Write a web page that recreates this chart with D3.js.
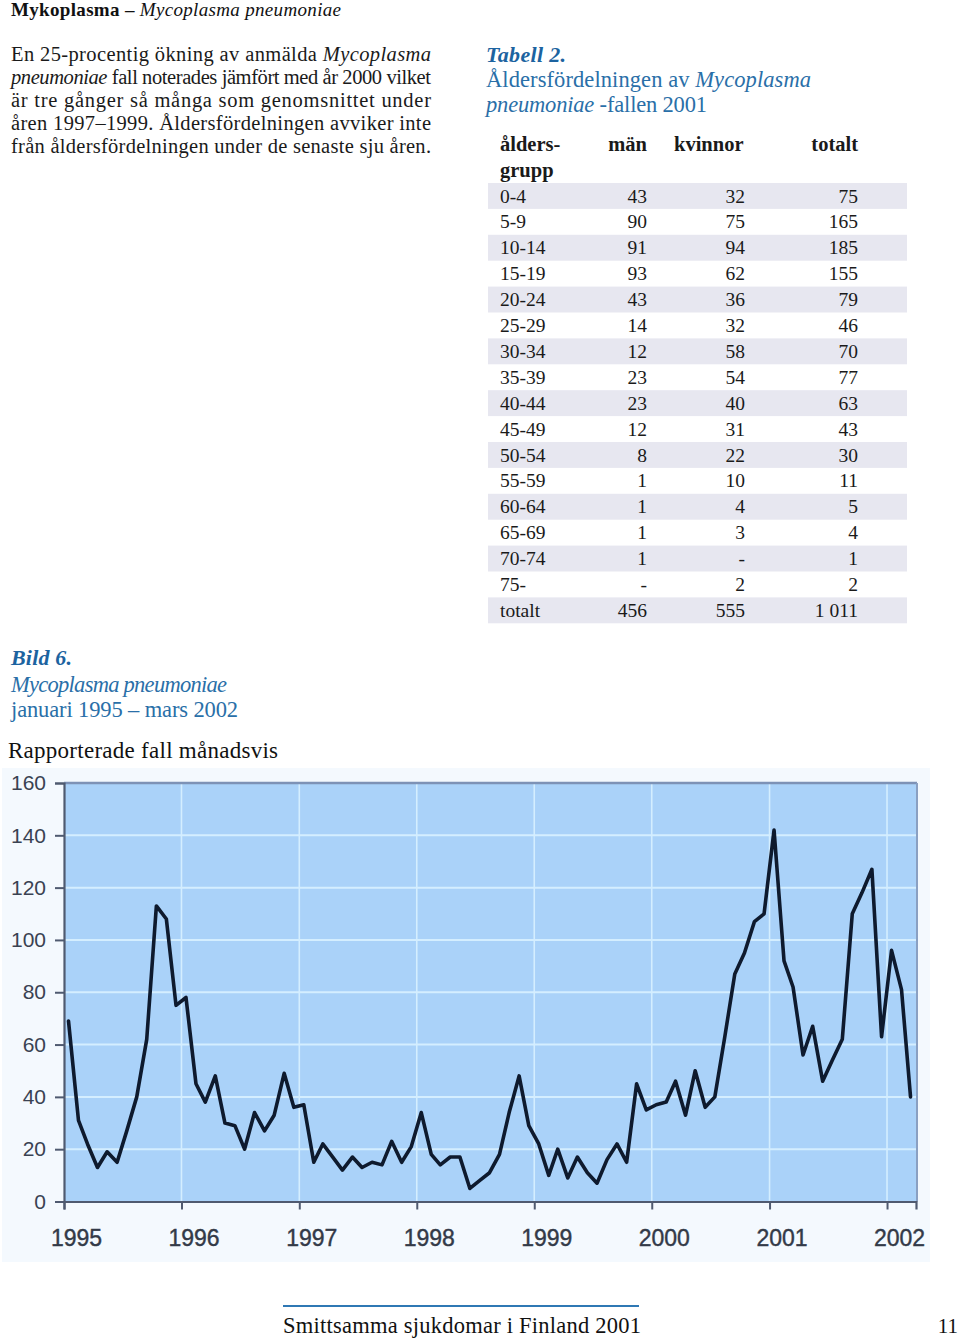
<!DOCTYPE html>
<html>
<head>
<meta charset="utf-8">
<script src="https://cdn.jsdelivr.net/npm/d3@7"></script>
<style>
  body { margin: 0; background: #ffffff; }
  svg { display: block; }
</style>
</head>
<body>
<script>
// ---------------- DATA ----------------
// Monthly reported cases, January 1995 – March 2002
const monthlyCases = [
  69, 31, 22, 13, 19, 15, 27, 40, 62, 113, 108, 75,   // 1995
  78, 45, 38, 48, 30, 29, 20, 34, 27, 33, 49, 36,     // 1996
  37, 15, 22, 17, 12, 17, 13, 15, 14, 23, 15, 21,     // 1997
  34, 18, 14, 17, 17, 5, 8, 11, 18, 34, 48, 29,       // 1998
  22, 10, 20, 9, 17, 11, 7, 16, 22, 15, 45, 35,       // 1999
  37, 38, 46, 33, 50, 36, 40, 63, 87, 95, 107, 110,   // 2000
  142, 92, 82, 56, 67, 46, 54, 62, 110, 118, 127, 63, // 2001
  96, 81, 40                                          // 2002
];
const startYear = 1995;
const yTicks = [0, 20, 40, 60, 80, 100, 120, 140, 160];
const xTickYears = [1995, 1996, 1997, 1998, 1999, 2000, 2001, 2002];

// Table 2
const ageGroups = ["0-4","5-9","10-14","15-19","20-24","25-29","30-34","35-39","40-44","45-49","50-54","55-59","60-64","65-69","70-74","75-","totalt"];
const menValues = ["43","90","91","93","43","14","12","23","23","12","8","1","1","1","1","-","456"];
const womenValues = ["32","75","94","62","36","32","58","54","40","31","22","10","4","3","-","2","555"];
const totalValues = ["75","165","185","155","79","46","70","77","63","43","30","11","5","4","1","2","1 011"];

// Texts
const paragraphLines = [
  [["En 25-procentig ökning av anmälda ", "normal"], ["Mycoplasma", "italic"]],
  [["pneumoniae", "italic"], [" fall noterades jämfört med år 2000 vilket", "normal"]],
  [["är  tre gånger så många som genomsnittet under", "normal"]],
  [["åren 1997–1999. Åldersfördelningen avviker inte", "normal"]],
  [["från åldersfördelningen under de senaste sju åren.", "normal"]]
];

// ---------------- DRAWING ----------------
const W = 960, H = 1342;
const serif = "'Liberation Serif', 'DejaVu Serif', serif";
const sans = "'Liberation Sans', Arial, sans-serif";
const blue = "#2a6fa8";
const blueDark = "#1c63a0";

const svg = d3.select("body").append("svg")
  .attr("width", W).attr("height", H)
  .attr("viewBox", `0 0 ${W} ${H}`);

function richText(x, y, parts, opts) {
  const t = svg.append("text")
    .attr("x", x).attr("y", y)
    .attr("font-family", opts.family || serif)
    .attr("font-size", opts.size)
    .attr("fill", opts.fill || "#111");
  if (opts.length) t.attr("textLength", opts.length).attr("lengthAdjust", opts.adjust || "spacing");
  if (opts.anchor) t.attr("text-anchor", opts.anchor);
  parts.forEach(([s, style]) => {
    t.append("tspan")
      .attr("font-style", style === "italic" || style === "bolditalic" ? "italic" : "normal")
      .attr("font-weight", style === "bold" || style === "bolditalic" ? "bold" : "normal")
      .text(s);
  });
  return t;
}

// Heading
richText(11, 16, [["Mykoplasma – ", "bold"], ["Mycoplasma pneumoniae", "italic"]], {size: 19, length: 330, fill: "#111"});

// Paragraph (justified)
paragraphLines.forEach((line, i) => {
  richText(11, 61 + i * 23, line, {size: 20.5, length: 420, fill: "#1a1a1a"});
});

// Table caption
richText(486, 62, [["Tabell 2.", "bolditalic"]], {size: 22, fill: blueDark, length: 80});
richText(486, 87, [["Åldersfördelningen av ", "normal"], ["Mycoplasma", "italic"]], {size: 22.5, fill: blue, length: 325});
richText(486, 112, [["pneumoniae", "italic"], [" -fallen  2001", "normal"]], {size: 22.5, fill: blue, length: 221});

// Table
const tableTop = 183, rowH = 25.9;
const colAgeX = 500, colMenX = 647, colWomenX = 745, colTotX = 858;
const rowsG = svg.append("g");
ageGroups.forEach((g, i) => {
  const yTop = tableTop + i * rowH;
  if (i % 2 === 0) {
    rowsG.append("rect").attr("x", 488).attr("y", yTop).attr("width", 419).attr("height", rowH)
      .attr("fill", "#e7e7f0");
  }
  const yb = yTop + 19.5;
  const cell = (x, txt, anchor) => rowsG.append("text")
    .attr("x", x).attr("y", yb).attr("text-anchor", anchor)
    .attr("font-family", serif).attr("font-size", 19.5).attr("fill", "#1a1a1a").text(txt);
  cell(colAgeX, g, "start");
  cell(colMenX, menValues[i], "end");
  cell(colWomenX, womenValues[i], "end");
  cell(colTotX, totalValues[i], "end");
});
const hdr = (x, y, txt, anchor) => svg.append("text")
  .attr("x", x).attr("y", y).attr("text-anchor", anchor)
  .attr("font-family", serif).attr("font-size", 20.5).attr("font-weight", "bold")
  .attr("fill", "#1a1a1a").text(txt);
hdr(colAgeX, 151, "ålders-", "start");
hdr(colAgeX, 177, "grupp", "start");
hdr(colMenX, 151, "män", "end");
hdr(674, 151, "kvinnor", "start");
hdr(colTotX, 151, "totalt", "end");

// Figure caption
richText(11, 665, [["Bild 6.", "bolditalic"]], {size: 22, fill: blueDark, length: 61});
richText(11, 692, [["Mycoplasma pneumoniae", "italic"]], {size: 22.5, fill: blue, length: 216});
richText(11, 717, [["januari 1995 – mars 2002", "normal"]], {size: 22.5, fill: blue, length: 227});
richText(8, 758, [["Rapporterade fall månadsvis", "normal"]], {size: 23, fill: "#111", length: 270});

// ---------------- CHART ----------------
const plot = {left: 64, right: 917, top: 783, bottom: 1201.5};

svg.append("rect").attr("x", 2).attr("y", 768).attr("width", 928).attr("height", 494)
  .attr("fill", "#f4f9fe");

const x = d3.scaleTime()
  .domain([new Date(startYear, 0, 1), new Date(2002, 3, 1)])
  .range([plot.left, 916]);
const y = d3.scaleLinear().domain([0, 160]).range([plot.bottom, plot.top]);

const series = monthlyCases.map((v, i) => ({date: new Date(startYear, i, 15), value: v}));

// background
svg.append("rect")
  .attr("x", plot.left).attr("y", plot.top)
  .attr("width", plot.right - plot.left).attr("height", plot.bottom - plot.top)
  .attr("fill", "#aad2f9");

// grid
const grid = svg.append("g");
grid.selectAll("line.h").data(yTicks.filter(d => d > 0 && d < 160)).join("line")
  .attr("x1", plot.left).attr("x2", plot.right)
  .attr("y1", d => y(d)).attr("y2", d => y(d))
  .attr("stroke", "#d4eeff").attr("stroke-width", 2);
grid.selectAll("line.v").data(xTickYears.filter(d => d > startYear)).join("line")
  .attr("x1", d => x(new Date(d, 0, 1))).attr("x2", d => x(new Date(d, 0, 1)))
  .attr("y1", plot.top).attr("y2", plot.bottom)
  .attr("stroke", "#d4eeff").attr("stroke-width", 1.6);

// frame top & right
svg.append("line").attr("x1", plot.left).attr("x2", plot.right).attr("y1", plot.top).attr("y2", plot.top)
  .attr("stroke", "#7d92b6").attr("stroke-width", 2.5);
svg.append("line").attr("x1", plot.right).attr("x2", plot.right).attr("y1", plot.top).attr("y2", plot.bottom)
  .attr("stroke", "#8aa0c2").attr("stroke-width", 2);

// line
svg.append("path").datum(series)
  .attr("fill", "none").attr("stroke", "#0e1a2e").attr("stroke-width", 3.6)
  .attr("stroke-linejoin", "round").attr("stroke-linecap", "round")
  .attr("d", d3.line().x(d => x(d.date)).y(d => y(d.value)));

// Y axis
const yAxis = svg.append("g").attr("transform", `translate(${plot.left},0)`)
  .call(d3.axisLeft(y).tickValues(yTicks).tickSize(9).tickPadding(9).tickFormat(d3.format("d")));
yAxis.select(".domain").attr("stroke", "#4f5a70").attr("stroke-width", 2.2);
yAxis.selectAll(".tick line").attr("stroke", "#4f5a70").attr("stroke-width", 2);
yAxis.selectAll(".tick text").attr("font-family", sans).attr("font-size", 21)
  .attr("fill", "#3a4252");

// X axis
const xAxis = svg.append("g").attr("transform", `translate(0,${plot.bottom})`)
  .call(d3.axisBottom(x).tickValues(xTickYears.map(yr => new Date(yr, 0, 1)))
    .tickSize(8).tickPadding(20).tickFormat(d3.timeFormat("%Y")));
xAxis.select(".domain").attr("stroke", "#4f5a70").attr("stroke-width", 2.2);
xAxis.selectAll(".tick line").attr("stroke", "#4f5a70").attr("stroke-width", 2);
xAxis.selectAll(".tick text").attr("font-family", sans).attr("font-size", 23)
  .attr("fill", "#333a48").attr("dx", 12).attr("stroke", "#333a48").attr("stroke-width", 0.4);

// ---------------- FOOTER ----------------
svg.append("line").attr("x1", 283).attr("x2", 639).attr("y1", 1306).attr("y2", 1306)
  .attr("stroke", "#2f78b4").attr("stroke-width", 2.2);
richText(283, 1333, [["Smittsamma sjukdomar i Finland 2001", "normal"]], {size: 22.5, fill: "#111", length: 358});
richText(958, 1333, [["11", "normal"]], {size: 21, fill: "#111", anchor: "end"});
</script>
</body>
</html>
